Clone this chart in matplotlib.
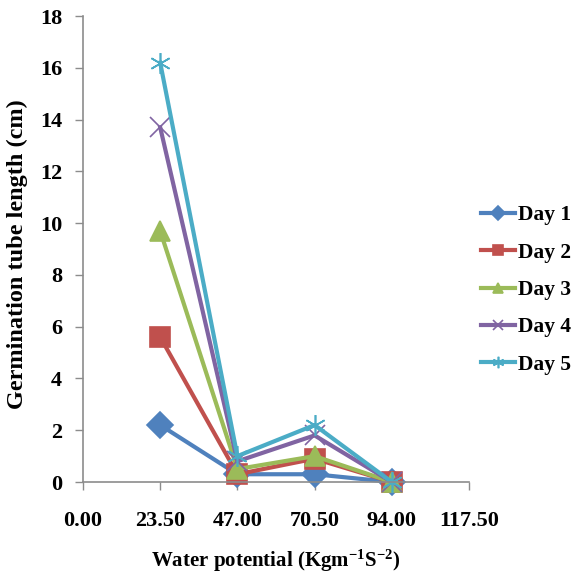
import matplotlib
matplotlib.use('Agg')
import matplotlib.pyplot as plt

plt.rcParams['font.family'] = ['Liberation Serif', 'DejaVu Serif']
plt.rcParams['font.weight'] = 'bold'
plt.rcParams['mathtext.fontset'] = 'custom'
plt.rcParams['mathtext.rm'] = 'Liberation Serif:bold'
plt.rcParams['mathtext.it'] = 'Liberation Serif:bold'
plt.rcParams['mathtext.bf'] = 'Liberation Serif:bold'

# water potential values
potential = [23.5, 47.0, 70.5, 94.0]
day1 = [2.2, 0.3, 0.3, 0.0]
day2 = [5.6, 0.3, 0.9, 0.0]
day3 = [9.7, 0.5, 1.0, 0.0]
day4 = [13.7, 0.8, 1.8, 0.0]
day5 = [16.2, 1.0, 2.2, 0.0]
labels = ['Day 1', 'Day 2', 'Day 3', 'Day 4', 'Day 5']
xticks = [0.0, 23.5, 47.0, 70.5, 94.0, 117.5]
yticks = [0, 2, 4, 6, 8, 10, 12, 14, 16, 18]

colors = ['#4F81BD', '#C0504D', '#9BBB59', '#8064A2', '#4BACC6']
markers = ['D', 's', '^', 'x', (6, 2, 0)]
sizes = [13, 14, 14, 14, 15]

fig = plt.figure(figsize=(5.76, 5.73), dpi=100)
ax = fig.add_axes([0.1441, 0.1588, 0.6701, 0.8132])

series = [day1, day2, day3, day4, day5]
for vals, lab, c, m, s in zip(series, labels, colors, markers, sizes):
    ax.plot(potential, vals, color=c, lw=3, marker=m, markersize=s,
            markeredgewidth=1.2, label=lab, clip_on=False)

ax.set_xlim(0, 117.5)
ax.set_ylim(0, 18)
ax.set_xticks(xticks)
ax.set_xticklabels(['%.2f' % v for v in xticks])
ax.set_yticks(yticks)

for sp in ['top', 'right']:
    ax.spines[sp].set_visible(False)
for sp in ['left', 'bottom']:
    ax.spines[sp].set_color('#8c8c8c')
    ax.spines[sp].set_linewidth(1.2)

ax.tick_params(axis='x', colors='#8c8c8c', length=6, width=1, pad=15,
               labelsize=16, labelcolor='black')
ax.tick_params(axis='y', colors='#8c8c8c', length=6, width=1, pad=9,
               labelsize=16, labelcolor='black')

ax.set_xlabel('Water potential (Kgm$^{-1}$S$^{-2}$)', fontsize=15, fontweight='bold')
ax.xaxis.set_label_coords(0.5, -0.142)
ax.set_ylabel('Germination tube length (cm)', fontsize=17.5, fontweight='bold')
ax.yaxis.set_label_coords(-0.142, 0.49)

fig.legend(loc='center left', bbox_to_anchor=(481 / 576, 1 - 290 / 573),
           frameon=False, fontsize=15.5, markerscale=0.55, handlelength=1.6,
           handletextpad=0.1, labelspacing=0.8, borderpad=0, borderaxespad=0)

fig.savefig('out.png', dpi=100)
